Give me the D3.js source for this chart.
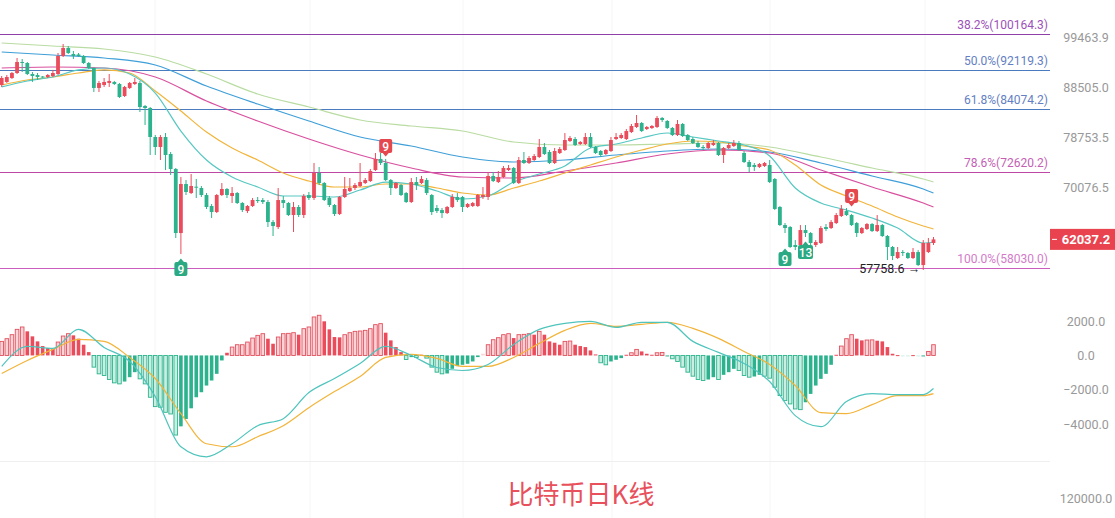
<!DOCTYPE html>
<html><head><meta charset="utf-8">
<script src="https://cdn.jsdelivr.net/npm/d3@7"></script>
<style>html,body{margin:0;padding:0;background:#fff;overflow:hidden}svg{display:block}</style>
</head><body>
<svg id="c" width="1115" height="518"></svg>
<script>
// ---- Candles (daily OHLC) ----
const opens=[88936,89559,90394,91453,93830,93612,91240,91028,90710,90604,90816,91240,95151,96945,95597,95500,95151,93612,92526,88318,88936,89351,89559,89143,86677,88318,89143,89351,84677,84282,78771,76955,78771,75708,73109,62963,70589,69121,70150,69936,68801,67061,66123,68801,69774,68642,69121,67529,66276,67061,68001,68001,67686,64597,63850,68001,67529,65664,66905,65664,68801,68324,72423,70753,68324,67216,65817,68483,69443,69936,70262,70753,71082,72929,74834,74135,71247,69936,70425,69121,67686,70917,70753,71247,68801,66750,66430,65969,66905,68483,68483,66905,67061,67061,68483,68483,71920,70917,71754,72929,73279,70753,74653,74135,74653,75182,76955,76061,74135,75884,76415,78037,78406,77494,77494,78771,76955,76238,75708,76238,78406,78588,78406,79691,80632,81385,80258,80445,80632,82343,81765,80445,79138,81196,79138,78406,77674,76955,76777,77314,77674,75532,76777,77134,77674,75884,74307,73792,73450,73621,73792,71422,66905,64147,63850,61228,61228,63403,62963,61228,61512,63850,63703,64447,65512,66276,65664,64447,62963,63555,64297,63256,64147,62527,60944,59398,60230,60090,59398,60230,58435,60230,61512];
const highs=[90816,91028,91666,94710,94488,93830,91666,91453,90816,91240,92119,95820,97854,97400,96270,95820,95370,93830,92740,89770,90394,91240,89770,89351,88730,89559,90394,89770,84875,84479,79138,79138,79506,76061,73279,71754,71247,72255,71422,70262,69121,67373,68961,70753,69936,70099,69282,67686,67216,68324,68483,68324,68001,64898,69936,68642,67686,67686,67216,68961,69282,74135,73450,70917,68642,67373,68642,71754,71588,70753,74135,71588,73109,75884,75884,74834,71422,70917,70589,69282,71588,71754,71920,71588,68961,67216,66750,67061,68961,69121,68642,67529,67686,68961,70099,72592,72592,72760,73621,73792,73450,75182,76061,75357,75708,78406,77674,76415,76777,76955,79506,78954,78771,78037,79506,79506,77134,76415,76596,78771,79506,79506,80258,81196,82918,81575,80820,81008,82726,82534,81955,80632,81955,81385,79322,78771,78037,77314,77855,78218,77855,76955,77674,78218,78037,76238,74653,74135,74135,74307,74653,71588,67061,64447,63999,61941,64147,64147,63110,61941,63999,64297,64898,65969,67216,66750,65817,64597,63850,64447,64447,65664,64297,62672,61085,60944,60510,60230,60803,60510,61941,62238,62383];
const lows=[88524,89351,90185,91240,91666,91028,89559,89977,90394,90394,90604,91028,94930,95597,94488,94930,93395,92320,87491,87491,88524,88524,88936,86270,86475,88110,88936,83497,81008,75532,75532,74653,72929,72087,62238,59951,68801,68961,68324,68483,66596,65210,65969,68642,68324,67529,67373,66123,65969,66905,67529,67373,63850,62527,63555,66750,65512,63110,65361,65210,68001,68001,70425,67843,66905,65512,65664,68324,69282,69604,70099,70589,70917,72760,73792,71082,68801,69774,68642,67529,67529,69604,70589,68801,65664,65969,65210,65817,66750,67686,66123,66750,66905,66905,68162,68001,70917,70753,71588,72760,70589,70589,73963,73963,74480,75008,75532,73963,73963,75708,76238,77855,77134,77314,77314,76777,75708,75182,75532,76061,78218,78406,78218,79506,80445,79691,80062,80258,80445,81575,80258,78954,78954,78771,78037,77494,76777,76415,76596,77134,75357,74135,76596,76955,76238,74135,72592,72760,73279,73450,70753,66430,63999,62963,60803,60510,60944,62383,61228,60944,61370,63256,63555,64297,65361,65512,63999,62383,62817,63403,63110,63110,62383,59116,59116,59257,59674,59257,59257,58300,57758.6,60090,61228];
const closes=[90394,90604,91453,93830,93612,91240,90816,90604,90604,91028,91453,95151,96945,95820,95151,95151,93612,92526,88318,89351,89559,89770,89143,86475,88524,89351,89559,84479,84282,78771,76955,78771,75532,73109,62963,70589,69282,70262,70099,68801,66905,66123,68801,69774,68801,69121,67529,66430,67061,68001,67843,67686,64597,63999,68001,67529,65664,66905,65664,68642,68324,72423,70753,68001,67216,65817,68483,69774,69936,70425,70917,71247,72760,74834,74135,71247,69936,70753,68801,67686,70917,70425,71422,69121,66123,66276,65969,66905,68483,68001,66905,67373,67529,68801,68801,71920,71082,71754,73279,73279,70753,74653,74135,75008,75357,76955,75708,74135,76238,76596,78218,78588,77314,77855,78771,76955,75884,75532,76415,78218,78771,79138,79876,80820,81385,79876,80632,80820,82343,81955,80445,79138,81196,78954,78218,77674,76955,76777,77674,77674,75532,76777,77314,77674,76415,74307,73450,73450,73963,74135,70917,66596,64147,63703,60944,60944,63403,62963,61512,61655,63703,63555,64597,65664,66596,65664,64147,62963,63703,64297,63256,64147,62527,60944,59674,60230,60090,59398,60230,58435,61512,61512,62037.2];

// ---- Moving averages at candle indices ----
const maIdxFast=[0,5,10,15,20,25,30,35,40,45,50,55,60,65,70,75,80,85,90,95,100,105,110,115,120,125,130,135,140,145,150,155,160,165,170,175,180,182];
const maIdxSlow=[0,10,20,30,40,50,60,70,80,90,100,110,120,130,140,150,160,170,180,182];
const maTeal=[88524,89768,90604,92119,92526,91240,87280,79876,74653,71754,70099,68642,68642,68483,69604,70917,70589,69443,68162,68642,70917,72255,73621,76777,77494,78588,79506,78771,78037,77314,75357,69936,67529,66430,65210,63703,61512,61655];
const maOrange=[88936,89977,90604,91453,92119,91453,87690,83692,79691,76777,74653,72423,71082,70099,70099,70589,70589,69936,69121,68801,69936,71082,72423,73792,75182,76415,77494,78037,77855,77134,76415,73792,70425,68642,67061,65361,63999,63555];
const maMagenta=[92526,92740,92526,90604,85670,81765,78406,75532,73279,71754,71588,72760,74135,75708,76415,75884,72929,70099,67529,66905];
const maBlue=[96050,95370,94710,93177,88730,85070,81765,78771,77134,75182,74307,74653,75532,76238,76596,76061,74135,71920,69774,69121];
const maLight=[98082,97400,96725,94930,91240,87083,84479,81955,80820,79876,77855,77314,77314,77494,77674,76955,75182,73279,71422,70917];

// ---- MACD ----
const macdHist=[816,972,1205,1516,1652,1399,1108,816,544,427,389,777,1127,1263,1166,972,622,194,-680,-1069,-1166,-1399,-1593,-1652,-1516,-1263,-972,-1360,-1652,-2429,-2973,-3012,-3303,-3400,-4624,-4119,-3692,-3070,-2429,-2137,-1749,-1457,-1069,-291,155,486,622,622,777,1010,1166,1263,972,680,1069,1263,1282,1321,1205,1554,1652,2234,2332,1982,1516,1069,1050,1205,1321,1399,1418,1457,1554,1788,1846,1321,874,486,194,-233,-97,-117,39,-155,-680,-972,-1069,-1049,-777,-622,-544,-486,-350,-97,97,622,913,1030,1205,1263,1010,1205,1224,1263,1205,1399,1205,816,738,622,816,835,622,544,486,291,58,-427,-544,-350,-253,-155,39,155,350,233,97,39,155,175,-39,-194,-350,-680,-972,-1205,-1399,-1457,-1399,-1263,-1399,-1127,-972,-777,-874,-1166,-1263,-1224,-1127,-1205,-1321,-1846,-2332,-2623,-2817,-3109,-3148,-2720,-2234,-1749,-1360,-1069,-544,39,544,972,1205,972,874,894,903,855,816,486,97,19,-39,-58,19,-58,-39,233,622];
const macdDif=[-641,525,408,1516,466,-350,-2390,-5305,-5888,-5130,-4081,-3673,-2157,-1341,-466,525,0,-700,-875,-525,641,1516,1866,1982,1632,1924,1924,816,175,-466,-1516,-3498,-4139,-2682,-2215,-2274,-2274,-1924];
const macdDea=[-1049,-292,350,933,816,-117,-1341,-3381,-5130,-5305,-4722,-4081,-3032,-2099,-1224,-117,58,-175,-641,-641,-117,700,1458,1866,1691,1807,1924,1574,991,233,-525,-1749,-3323,-3381,-2857,-2332,-2332,-2215];

// ---- Levels & labels ----
const fibLabels=['38.2%(100164.3)','50.0%(92119.3)','61.8%(84074.2)','78.6%(72620.2)','100.0%(58030.0)'];
const fibValues=[100164.3,92119.3,84074.2,72620.2,58030.0];
const priceTicks=[99463.9,88505.0,78753.5,70076.5];
const macdTicks=[2000,0,-2000,-4000];
const volTicks=[120000];
const lastPrice=62037.2;
const lowIdx=180, lowValue=57758.6;
const markerIdx=[35,75,153,157,166];
const markerText=['9','9','9','13','9'];
const markerSide=['below','above','below','below','above'];
const markerLevel=[58841,75884,60230,61228,67529];
const title='比特币日K线';

// ---- Drawing ----
const RED='#ea4c5b', GREEN='#2cb38d';
const svg=d3.select('#c');
const x=d3.scaleLinear().domain([0,closes.length-1]).range([1.7,933.5]);
const y=d3.scaleLog().domain([58030,100164.3]).range([268,34]);
const ym=d3.scaleLinear().domain([-4000,2000]).range([424.3,321]);
const yv=d3.scaleLinear().domain([0,120000]).range([700,498]);

// faint grid
const gridX=[155,310,463,612,770,925];
svg.append('g').selectAll('line').data(gridX).join('line')
  .attr('x1',d=>d).attr('x2',d=>d).attr('y1',0).attr('y2',518)
  .attr('stroke','#f6f6f6').attr('stroke-width',1);
svg.append('line').attr('x1',0).attr('x2',1050).attr('y1',461.5).attr('y2',461.5)
  .attr('stroke','#efefef').attr('stroke-width',1);

// fib lines
const fibLine=['#8e3fa8','#4a7bbf','#4a7bbf','#bd48a6','#cc5cbd'];
const fibText=['#9c52b8','#6480c2','#6480c2','#c45fb4','#d27bc8'];
const fg=svg.append('g');
fg.selectAll('line').data(fibValues).join('line')
  .attr('x1',0).attr('x2',1050).attr('y1',d=>Math.round(y(d))+0.5).attr('y2',d=>Math.round(y(d))+0.5)
  .attr('stroke',(d,i)=>fibLine[i]).attr('stroke-width',1.2);
fg.selectAll('text').data(fibValues).join('text')
  .attr('x',1048).attr('y',d=>y(d)-5).attr('text-anchor','end')
  .attr('font-family','Roboto, sans-serif').attr('font-size',12)
  .attr('fill',(d,i)=>fibText[i]).text((d,i)=>fibLabels[i]);

// moving averages
function maLine(idx,vals,color){
  const line=d3.line().x((d,i)=>x(idx[i])).y(d=>y(d)).curve(d3.curveMonotoneX);
  svg.append('path').datum(vals).attr('d',line).attr('fill','none')
    .attr('stroke',color).attr('stroke-width',1.2);
}
maLine(maIdxSlow,maLight,'#b9dca2');
maLine(maIdxSlow,maBlue,'#3f9fd8');
maLine(maIdxSlow,maMagenta,'#d9509f');
maLine(maIdxFast,maOrange,'#f2b43a');
maLine(maIdxFast,maTeal,'#56c7c2');

// candles
const cw=3.8;
const cg=svg.append('g');
const cd=closes.map((c,i)=>({i,o:opens[i],h:highs[i],l:lows[i],c}));
cg.selectAll('line').data(cd).join('line')
  .attr('x1',d=>x(d.i)).attr('x2',d=>x(d.i)).attr('y1',d=>y(d.h)).attr('y2',d=>y(d.l))
  .attr('stroke',d=>d.c>=d.o?RED:GREEN).attr('stroke-width',1);
cg.selectAll('rect').data(cd).join('rect')
  .attr('x',d=>x(d.i)-cw/2).attr('width',cw)
  .attr('y',d=>Math.min(y(d.o),y(d.c)))
  .attr('height',d=>Math.max(1,Math.abs(y(d.o)-y(d.c))))
  .attr('fill',d=>d.c>=d.o?RED:GREEN);

// TD markers
markerIdx.forEach((mi,k)=>{
  const cx=x(mi), w=markerText[k].length>1?15:13, h=14;
  const lv=y(markerLevel[k]);
  const col=markerSide[k]==='above'?'#e5474f':'#2aa982';
  const top=markerSide[k]==='above'?lv-h:lv;
  svg.append('rect').attr('x',cx-w/2).attr('y',top).attr('width',w).attr('height',h).attr('rx',2).attr('fill',col);
  const tri=markerSide[k]==='above'
    ? [[cx-3,lv],[cx+3,lv],[cx,lv+3.5]]
    : [[cx-3,lv],[cx+3,lv],[cx,lv-3.5]];
  svg.append('path').attr('d',d3.line()(tri)+'Z').attr('fill',col);
  svg.append('text').attr('x',cx).attr('y',top+11.5).attr('text-anchor','middle')
    .attr('font-family','Roboto, sans-serif').attr('font-size',12).attr('font-weight',500)
    .attr('fill','#fff').text(markerText[k]);
});

// low annotation
svg.append('text').attr('x',x(lowIdx)-3).attr('y',y(lowValue)+2.5).attr('text-anchor','end')
  .attr('font-family','Roboto, sans-serif').attr('font-size',12.5).attr('fill','#222')
  .text(d3.format('.1f')(lowValue)+' \u2192');

// price axis
const axFont=g=>g.selectAll('text').attr('text-anchor','middle').attr('x',0)
  .attr('font-family','Roboto, sans-serif').attr('font-size',12.5).attr('fill','#999');
const pa=svg.append('g').attr('transform','translate(1086,0)')
  .call(d3.axisRight(y).tickValues(priceTicks).tickFormat(d3.format('.1f')).tickSize(0).tickPadding(0));
pa.select('.domain').remove(); pa.call(axFont);
// current price tag
const ly=y(lastPrice);
svg.append('rect').attr('x',1050).attr('y',ly-10.5).attr('width',65).attr('height',21).attr('fill','#e8434f');
svg.append('line').attr('x1',1052).attr('x2',1057).attr('y1',ly).attr('y2',ly).attr('stroke','#fff').attr('stroke-width',1);
svg.append('text').attr('x',1086).attr('y',ly+4.5).attr('text-anchor','middle')
  .attr('font-family','Roboto, sans-serif').attr('font-size',13).attr('font-weight',700)
  .attr('fill','#fff').text(d3.format('.1f')(lastPrice));

// MACD histogram
const hw=3.6;
const hg=svg.append('g');
const hd=macdHist.map((v,i)=>({i,v,grow:i>0?Math.abs(v)>=Math.abs(macdHist[i-1]):true}));
hg.selectAll('rect').data(hd).join('rect')
  .attr('x',d=>x(d.i)-hw/2).attr('width',hw)
  .attr('y',d=>Math.min(ym(0),ym(d.v)))
  .attr('height',d=>Math.max(1,Math.abs(ym(d.v)-ym(0))))
  .attr('fill',d=>d.v>=0?(d.grow?'#fbd3d7':RED):(d.grow?'#cbeee2':GREEN))
  .attr('stroke',d=>d.grow&&Math.abs(ym(d.v)-ym(0))>2?(d.v>=0?'#e0505d':'#2cb38d'):'none')
  .attr('stroke-width',0.9);

const lm=d3.line().x((d,i)=>x(maIdxFast[i])).y(d=>ym(d)).curve(d3.curveMonotoneX);
svg.append('path').datum(macdDea).attr('d',lm).attr('fill','none').attr('stroke','#f2b43a').attr('stroke-width',1.2);
svg.append('path').datum(macdDif).attr('d',lm).attr('fill','none').attr('stroke','#4fc4bd').attr('stroke-width',1.2);

const ma=svg.append('g').attr('transform','translate(1086,0)')
  .call(d3.axisRight(ym).tickValues(macdTicks).tickFormat(d3.format('.1f')).tickSize(0).tickPadding(0));
ma.select('.domain').remove(); ma.call(axFont);

const va=svg.append('g').attr('transform','translate(1086,0)')
  .call(d3.axisRight(yv).tickValues(volTicks).tickFormat(d3.format('.1f')).tickSize(0).tickPadding(0));
va.select('.domain').remove(); va.call(axFont);

// title
svg.append('text').attr('x',581).attr('y',504).attr('text-anchor','middle')
  .attr('font-family','"Noto Sans CJK SC", sans-serif').attr('font-size',26)
  .attr('fill','#e8505b').text(title);
</script>
</body></html>
